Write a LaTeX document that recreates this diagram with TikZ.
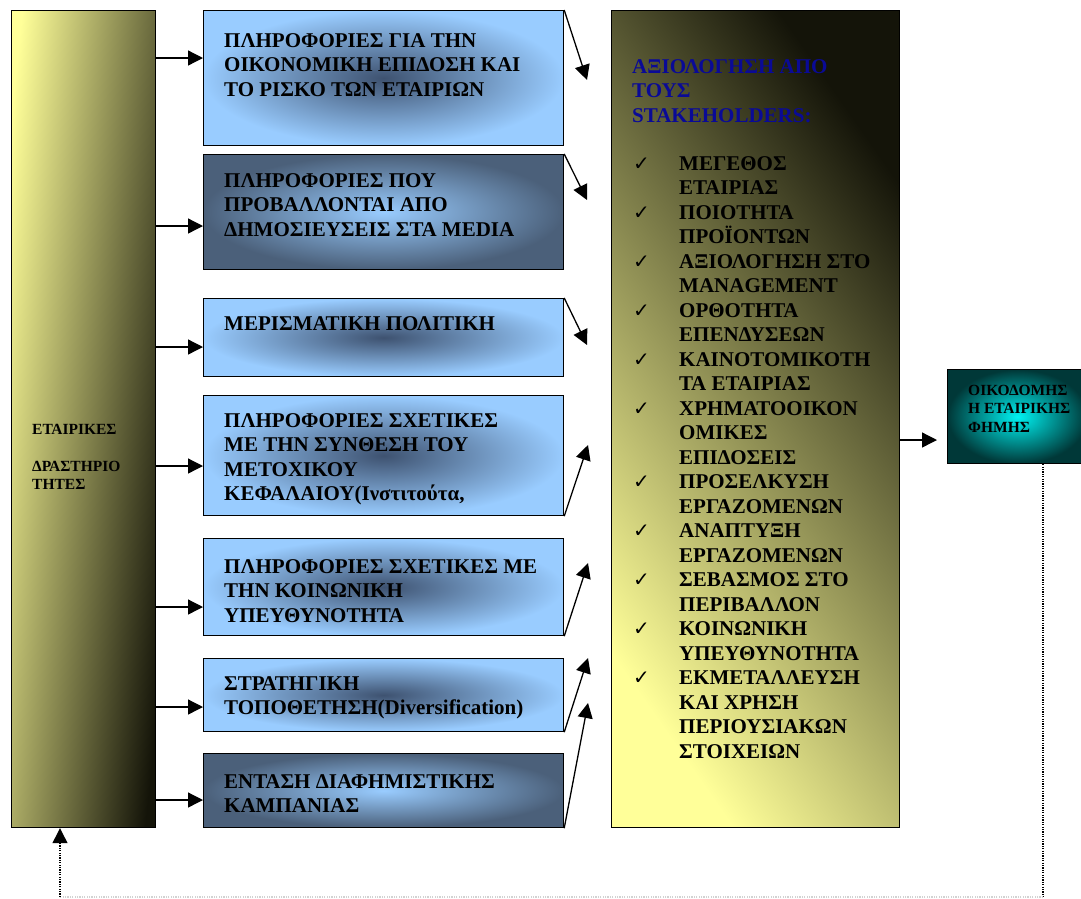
\documentclass[tikz,border=0pt]{standalone}
\usepackage{fontspec}
\setmainfont{Liberation Serif}
\newfontfamily\checkfont{DejaVu Sans}
\usetikzlibrary{arrows.meta}
\definecolor{actyellow}{HTML}{FFFF99}
\definecolor{actolive}{HTML}{A6A25E}
\definecolor{actdark}{HTML}{141409}
\definecolor{infolight}{HTML}{99CCFF}
\definecolor{infodark}{HTML}{4B607A}
\definecolor{infocore}{HTML}{3E5270}
\definecolor{famedark}{HTML}{003838}
\definecolor{famecyan}{HTML}{00F2F2}
\definecolor{titleblue}{HTML}{0A0A96}
\newcommand{\chk}{\hspace*{1pt}\makebox[46pt][l]{\smash{\checkfont\fontsize{20}{20}\selectfont ✓}}}
\newcommand{\ind}{\hspace*{47pt}}
\tikzset{
  box/.style={draw=black, line width=1.2pt, inner sep=0pt, anchor=north west},
  lightinfo/.style={box, minimum width=360pt, inner color=infocore, outer color=infolight},
  darkinfo/.style={box, minimum width=360pt, inner color=infolight, outer color=infodark},
  txt/.style={anchor=north west, align=left, inner sep=0pt,
    font=\bfseries\fontsize{21}{24.5}\selectfont},
  smalltxt/.style={anchor=north west, align=left, inner sep=0pt,
    font=\bfseries\fontsize{15.5}{18.5}\selectfont},
  arr/.style={-{Triangle[length=15pt,width=15pt]}, line width=1.3pt},
  loopline/.style={line width=1.3pt, dash pattern=on 1.2pt off 1.2pt}
}
\begin{document}
\begin{tikzpicture}[x=1pt,y=-1pt]
\useasboundingbox (0,0) rectangle (1081,898);
% left column
\node[box, minimum width=144pt, minimum height=817pt,
  left color=actyellow, middle color=actolive, right color=actdark,
  shading angle=84] (acts) at (11,10) {};
\node[smalltxt] (tacts) at (32,424) {ΕΤΑΙΡΙΚΕΣ\\[18.5pt]ΔΡΑΣΤΗΡΙΟ\\ΤΗΤΕΣ};
% information boxes
\node[lightinfo, minimum height=135pt] (info1) at (203,10) {};
\node[darkinfo, minimum height=115pt] (info2) at (203,154) {};
\node[lightinfo, minimum height=78pt] (info3) at (203,298) {};
\node[lightinfo, minimum height=120pt] (info4) at (203,395) {};
\node[lightinfo, minimum height=97pt] (info5) at (203,538) {};
\node[lightinfo, minimum height=73pt] (info6) at (203,658) {};
\node[darkinfo, minimum height=74pt] (info7) at (203,753) {};
\node[txt] (t1) at ([shift={(21,23)}]info1.north west)
  {ΠΛΗΡΟΦΟΡΙΕΣ ΓΙΑ ΤΗΝ\\ΟΙΚΟΝΟΜΙΚΗ ΕΠΙΔΟΣΗ ΚΑΙ\\ΤΟ ΡΙΣΚΟ ΤΩΝ ΕΤΑΙΡΙΩΝ};
\node[txt] (t2) at ([shift={(21,19)}]info2.north west)
  {ΠΛΗΡΟΦΟΡΙΕΣ ΠΟΥ\\ΠΡΟΒΑΛΛΟΝΤΑΙ ΑΠΟ\\ΔΗΜΟΣΙΕΥΣΕΙΣ ΣΤΑ MEDIA};
\node[txt] (t3) at ([shift={(21,18)}]info3.north west) {ΜΕΡΙΣΜΑΤΙΚΗ ΠΟΛΙΤΙΚΗ};
\node[txt] (t4) at ([shift={(21,18)}]info4.north west)
  {ΠΛΗΡΟΦΟΡΙΕΣ ΣΧΕΤΙΚΕΣ\\ΜΕ ΤΗΝ ΣΥΝΘΕΣΗ ΤΟΥ\\ΜΕΤΟΧΙΚΟΥ\\ΚΕΦΑΛΑΙΟΥ(Ινστιτούτα,};
\node[txt] (t5) at ([shift={(21,21)}]info5.north west)
  {ΠΛΗΡΟΦΟΡΙΕΣ ΣΧΕΤΙΚΕΣ ΜΕ\\ΤΗΝ ΚΟΙΝΩΝΙΚΗ\\ΥΠΕΥΘΥΝΟΤΗΤΑ};
\node[txt] (t6) at ([shift={(21,18)}]info6.north west)
  {ΣΤΡΑΤΗΓΙΚΗ\\ΤΟΠΟΘΕΤΗΣΗ(Diversification)};
\node[txt] (t7) at ([shift={(21,21)}]info7.north west)
  {ΕΝΤΑΣΗ ΔΙΑΦΗΜΙΣΤΙΚΗΣ\\ΚΑΜΠΑΝΙΑΣ};
% evaluation column
\node[box, minimum width=288pt, minimum height=817pt,
  left color=actyellow, middle color=actolive, right color=actdark,
  shading angle=125] (eval) at (611,10) {};
\node[txt, text=titleblue] (teval) at (632,59)
  {ΑΞΙΟΛΟΓΗΣΗ ΑΠΟ\\ΤΟΥΣ\\STAKEHOLDERS:};
\node[txt] (items) at (632,156) {%
  \chk ΜΕΓΕΘΟΣ\\\ind ΕΤΑΙΡΙΑΣ\\
  \chk ΠΟΙΟΤΗΤΑ\\\ind ΠΡΟΪΟΝΤΩΝ\\
  \chk ΑΞΙΟΛΟΓΗΣΗ ΣΤΟ\\\ind MANAGEMENT\\
  \chk ΟΡΘΟΤΗΤΑ\\\ind ΕΠΕΝΔΥΣΕΩΝ\\
  \chk ΚΑΙΝΟΤΟΜΙΚΟΤΗ\\\ind ΤΑ ΕΤΑΙΡΙΑΣ\\
  \chk ΧΡΗΜΑΤΟΟΙΚΟΝ\\\ind ΟΜΙΚΕΣ\\\ind ΕΠΙΔΟΣΕΙΣ\\
  \chk ΠΡΟΣΕΛΚΥΣΗ\\\ind ΕΡΓΑΖΟΜΕΝΩΝ\\
  \chk ΑΝΑΠΤΥΞΗ\\\ind ΕΡΓΑΖΟΜΕΝΩΝ\\
  \chk ΣΕΒΑΣΜΟΣ ΣΤΟ\\\ind ΠΕΡΙΒΑΛΛΟΝ\\
  \chk ΚΟΙΝΩΝΙΚΗ\\\ind ΥΠΕΥΘΥΝΟΤΗΤΑ\\
  \chk ΕΚΜΕΤΑΛΛΕΥΣΗ\\\ind ΚΑΙ ΧΡΗΣΗ\\\ind ΠΕΡΙΟΥΣΙΑΚΩΝ\\\ind ΣΤΟΙΧΕΙΩΝ};
% reputation
\node[box, minimum width=140pt, minimum height=94pt,
  inner color=famecyan, outer color=famedark] (fame) at (947,369) {};
\node[smalltxt] (tfame) at (968,385) {ΟΙΚΟΔΟΜΗΣ\\Η ΕΤΑΙΡΙΚΗΣ\\ΦΗΜΗΣ};
% arrows into the information boxes
\foreach \i/\d in {1/48,2/72,3/49,4/71,5/69,6/49,7/47}{
  \coordinate (in\i) at ([yshift=-\d pt]info\i.north west);
  \draw[arr] (acts.east |- in\i) -- (in\i);
}
% arrows towards the evaluation
\coordinate (e1) at (587,80);
\coordinate (e2) at (587,200);
\coordinate (e3) at (587,345);
\coordinate (e4) at (588,445);
\coordinate (e5) at (588,563);
\coordinate (e6) at (588,658);
\coordinate (e7) at (588,703);
\foreach \i in {1,2,3}
  \draw[arr] (info\i.north east) -- (e\i);
\foreach \i in {4,5,6,7}
  \draw[arr] (info\i.south east) -- (e\i);
\coordinate (famein) at (937,440);
\draw[arr] (eval.east |- famein) -- (famein);
% feedback
\coordinate (backr) at (1043,897);
\coordinate (backl) at (60,897);
\draw[loopline] (fame.south -| backr) -- (backr);
\draw[loopline, gray!35] (backr) -- (backl);
\draw[loopline, -{Triangle[length=15pt,width=15pt]}] (backl) -- (acts.south -| backl);
\end{tikzpicture}
\end{document}
